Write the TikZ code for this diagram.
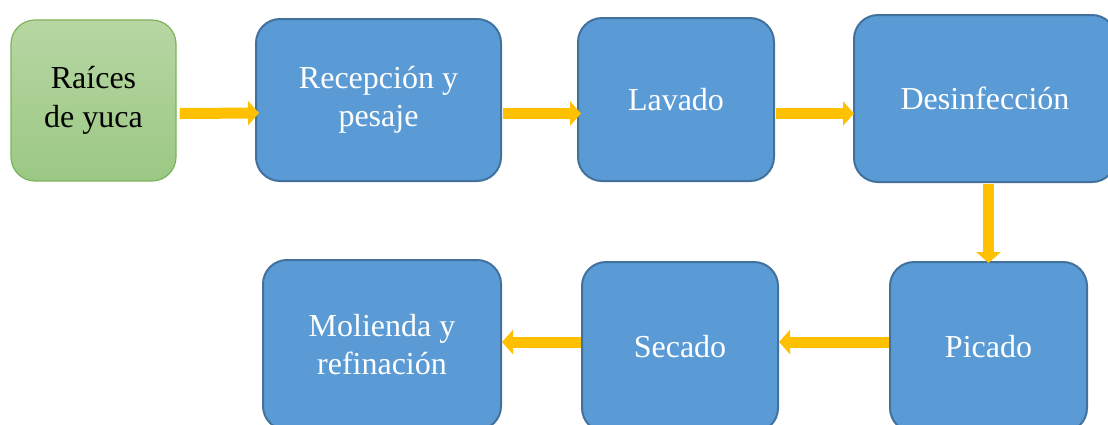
\documentclass[tikz,border=0pt]{standalone}
\usepackage{fontspec}
\setmainfont{Liberation Serif}
\usetikzlibrary{arrows.meta}
\definecolor{boxblue}{HTML}{5B9BD5}
\definecolor{boxborder}{HTML}{41719C}
\definecolor{grtop}{HTML}{B7D6A3}
\definecolor{grbot}{HTML}{9BC884}
\definecolor{grborder}{HTML}{7DB35A}
\definecolor{arrorange}{HTML}{FFC000}
\tikzset{
  bluebox/.style={draw=boxborder, line width=2pt, fill=boxblue, rounded corners=24pt,
    text=white, align=center, inner sep=0pt,
    font=\fontsize{32}{38}\selectfont},
  greenbox/.style={draw=grborder, line width=1.2pt, top color=grtop, bottom color=grbot,
    rounded corners=24pt, text=black, align=center, inner sep=0pt,
    font=\fontsize{32}{39}\selectfont},
  flowarr/.style={draw=arrorange, line width=11pt,
    -{Triangle[width=24pt,length=11pt]}}
}
\begin{document}
\begin{tikzpicture}[x=1pt,y=-1pt]
\useasboundingbox (0,0) rectangle (1108,424);
\node[greenbox, minimum width=165pt, minimum height=161pt] (raices) at (93.5,100.5) {Raíces\\de yuca};
\node[bluebox, minimum width=245pt, minimum height=162pt] (recep) at (378.5,100) {Recepción y\\pesaje};
\node[bluebox, minimum width=196pt, minimum height=163pt] (lavado) at (676,99.5) {Lavado};
\node[bluebox, minimum width=262pt, minimum height=167pt] (desinf) at (985,98.5) {Desinfección};
\node[bluebox, minimum width=197pt, minimum height=170pt] (picado) at (988.5,347) {Picado};
\node[bluebox, minimum width=196pt, minimum height=170pt] (secado) at (680,347) {Secado};
\node[bluebox, minimum width=238pt, minimum height=170pt] (molienda) at (382,345) {Molienda y\\refinación};
\draw[flowarr] ([shift={(3,13)}]raices.east) -- ([shift={(4,0)}]raices.east |- 0,113 -| recep.west) ;
\draw[flowarr] ([shift={(1,13.5)}]recep.east) -- ([shift={(4,0)}]recep.east |- 0,113.5 -| lavado.west);
\draw[flowarr] ([shift={(1,14)}]lavado.east) -- ([shift={(1,0)}]lavado.east |- 0,113.5 -| desinf.west);
\draw[flowarr] ([yshift=-1]desinf.south -| picado.north) -- ([yshift=-2]picado.north);
\draw[flowarr] ([yshift=5]picado.west) -- ([yshift=5]picado.west -| secado.east);
\draw[flowarr] ([yshift=5]secado.west) -- ([yshift=5]secado.west -| molienda.east);
\end{tikzpicture}
\end{document}
